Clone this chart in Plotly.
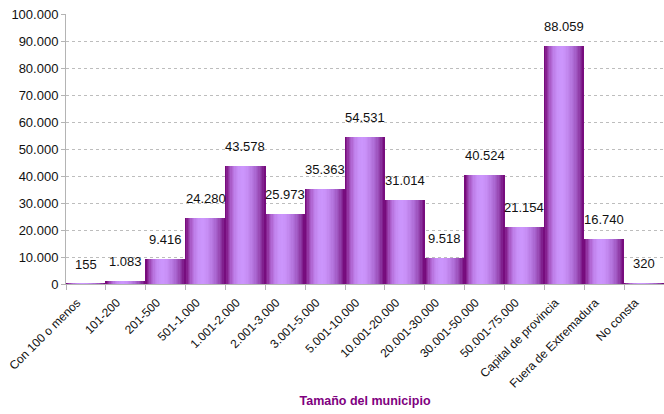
import plotly.graph_objects as go

categorias = ["Con 100 o menos", "101-200", "201-500", "501-1.000", "1.001-2.000",
              "2.001-3.000", "3.001-5.000", "5.001-10.000", "10.001-20.000",
              "20.001-30.000", "30.001-50.000", "50.001-75.000",
              "Capital de provincia", "Fuera de Extremadura", "No consta"]
valores = [155, 1083, 9416, 24280, 43578, 25973, 35363, 54531, 31014,
           9518, 40524, 21154, 88059, 16740, 320]
y_ticks = [0, 10000, 20000, 30000, 40000, 50000, 60000, 70000, 80000, 90000, 100000]

# horizontal gradient profile across each bar (left -> right)
perfil = [
    (0.00, (0x70, 0x00, 0x72)), (0.06, (0x8a, 0x28, 0x96)), (0.14, (0xa8, 0x58, 0xc4)),
    (0.24, (0xbe, 0x7e, 0xe8)), (0.34, (0xc9, 0x90, 0xf8)), (0.44, (0xcc, 0x96, 0xfd)),
    (0.54, (0xc8, 0x90, 0xf6)), (0.64, (0xbc, 0x80, 0xe8)), (0.74, (0xae, 0x6c, 0xd6)),
    (0.84, (0x9c, 0x50, 0xba)), (0.92, (0x88, 0x30, 0x9c)), (1.00, (0x72, 0x04, 0x76)),
]

def color_en(t):
    for (t0, c0), (t1, c1) in zip(perfil[:-1], perfil[1:]):
        if t0 <= t <= t1:
            f = (t - t0) / (t1 - t0) if t1 > t0 else 0
            return "rgb(%d,%d,%d)" % tuple(round(a + (b - a) * f) for a, b in zip(c0, c1))
    return "rgb(%d,%d,%d)" % perfil[-1][1]

N = 30
fig = go.Figure()
for i in range(N):
    t = (i + 0.5) / N
    fig.add_trace(go.Bar(
        x=categorias, y=valores,
        width=1.0 / N + 0.004, offset=-0.5 + i / N,
        marker=dict(color=color_en(t), line=dict(width=0)),
        hoverinfo="skip", showlegend=False,
    ))

def fmt(v):
    return f"{v:,}".replace(",", ".")

for c, v in zip(categorias, valores):
    fig.add_annotation(x=c, y=v, text=fmt(v), showarrow=False,
                       yanchor="bottom", yshift=10,
                       font=dict(family="Liberation Sans, Arial", size=13, color="#111111"))

fig.update_layout(
    width=664, height=414,
    margin=dict(l=66, r=0, t=14, b=130, autoexpand=False),
    paper_bgcolor="white", plot_bgcolor="white",
    barmode="overlay", bargap=0,
    separators=",.",
    font=dict(family="Liberation Sans, Arial", size=13, color="#111111"),
    xaxis=dict(
        type="category", tickangle=-45, tickson="boundaries", automargin=False,
        ticks="outside", ticklen=5, tickcolor="#b4b4b4",
        ticklabelshift=-9, ticklabelstandoff=6,
        showline=True, linecolor="#b4b4b4", linewidth=1,
        showgrid=False, range=[-0.5, len(categorias) - 0.5],
        tickfont=dict(size=12, color="#111111"),
        title=dict(text="<b>Tamaño del municipio</b>", standoff=6,
                   font=dict(size=12.5, color="#800080")),
    ),
    yaxis=dict(
        range=[0, 100000], tickvals=y_ticks, ticktext=[fmt(v) for v in y_ticks],
        ticks="outside", ticklen=4, tickcolor="#b4b4b4", automargin=False,
        showline=True, linecolor="#b4b4b4", linewidth=1,
        showgrid=True, gridcolor="#bdbdbd", griddash="dot", gridwidth=1,
        zeroline=False, tickfont=dict(size=13, color="#111111"),
    ),
)

fig.write_html("out.html", config={"displayModeBar": False},
               post_script="document.body.style.margin='0';document.body.style.overflow='hidden';")
